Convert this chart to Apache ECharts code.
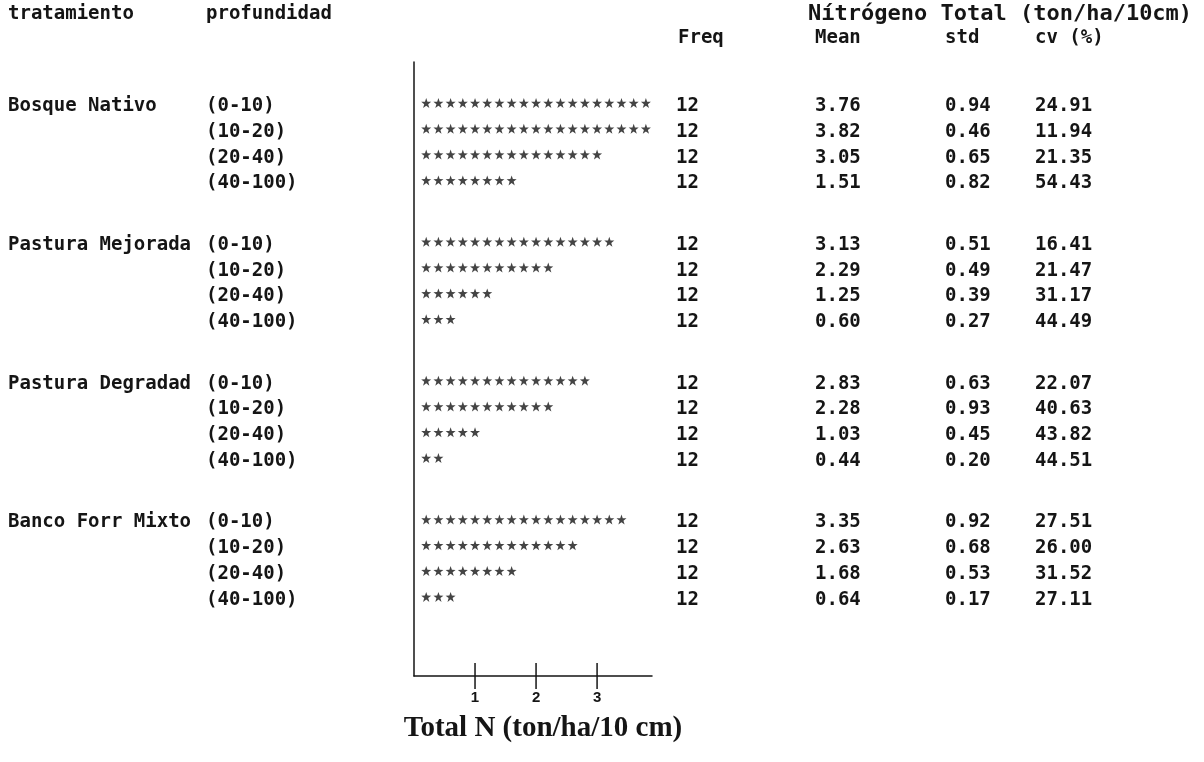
<!DOCTYPE html>
<html><head><meta charset="utf-8">
<script src="https://cdn.jsdelivr.net/npm/echarts@6/dist/echarts.min.js"></script>
<style>html,body{margin:0;padding:0;background:#fff}#c{width:1204px;height:762px}</style>
</head><body><div id="c"></div>
<script>
// ---- data ----
const treatments = ['Bosque Nativo', 'Pastura Mejorada', 'Pastura Degradad', 'Banco Forr Mixto'];
const depths = ['(0-10)', '(10-20)', '(20-40)', '(40-100)'];
const freq = [12,12,12,12, 12,12,12,12, 12,12,12,12, 12,12,12,12];
const means = [3.76,3.82,3.05,1.51, 3.13,2.29,1.25,0.60, 2.83,2.28,1.03,0.44, 3.35,2.63,1.68,0.64];
const meanText = ['3.76','3.82','3.05','1.51','3.13','2.29','1.25','0.60','2.83','2.28','1.03','0.44','3.35','2.63','1.68','0.64'];
const stdText = ['0.94','0.46','0.65','0.82','0.51','0.49','0.39','0.27','0.63','0.93','0.45','0.20','0.92','0.68','0.53','0.17'];
const cvText = ['24.91','11.94','21.35','54.43','16.41','21.47','31.17','44.49','22.07','40.63','43.82','44.51','27.51','26.00','31.52','27.11'];
const xTicks = [1, 2, 3];
const STAR_UNIT = 0.2; // each asterisk represents 0.2 ton/ha/10cm
const headerTop = ['tratamiento', 'profundidad', 'Nítrógeno Total (ton/ha/10cm)'];
const headerSub = ['Freq', 'Mean', 'std', 'cv (%)'];
const axisTitle = 'Total N (ton/ha/10 cm)';

// ---- layout ----
const GROUP_STRIDE = 5.38;
function rowPos(i) { return Math.floor(i / 4) * GROUP_STRIDE + (i % 4); }
const Y_MIN = -1.705, Y_MAX = 22.09;
const TXT_FONT = 'bold 19px "DejaVu Sans Mono"';
const NUM_FONT = 'bold 19px "DejaVu Sans Mono"';
const HEAD_FONT = 'bold 22px "DejaVu Sans Mono"';
const INK = '#151515';
const TICK_HALF = 13;
const starPath = 'path://M50,0 L62,34 L98,35 L69,57 L80,92 L50,71 L20,92 L31,57 L2,35 L38,34 Z';

const starData = [];
means.forEach((m, i) => {
  const n = Math.round(m / STAR_UNIT);
  for (let k = 1; k <= n; k++) starData.push([k * STAR_UNIT, rowPos(i)]);
});

const chart = echarts.init(document.getElementById('c'), null, {renderer: 'canvas'});
const option = {
  animation: false,
  backgroundColor: '#fff',
  grid: {left: 414, top: 62, width: 238, height: 614, containLabel: false},
  title: {
    text: axisTitle, left: 538, top: 709, textAlign: 'center',
    textStyle: {fontFamily: 'Liberation Serif', fontWeight: 'bold', fontSize: 29, color: INK}
  },
  xAxis: {
    type: 'value', min: 0, max: 3.9, interval: 1, position: 'bottom',
    axisLine: {show: true, onZero: false, lineStyle: {color: INK, width: 1.5}},
    axisTick: {show: false},
    axisLabel: {show: true, customValues: xTicks, margin: 14, color: INK, fontFamily: 'Liberation Sans', fontWeight: 'bold', fontSize: 15},
    splitLine: {show: false}
  },
  yAxis: {
    type: 'value', inverse: true, min: Y_MIN, max: Y_MAX,
    axisLine: {show: true, onZero: false, lineStyle: {color: INK, width: 1.5}},
    axisTick: {show: false}, axisLabel: {show: false}, splitLine: {show: false}
  },
  series: [{
    type: 'scatter',
    symbol: starPath, symbolSize: 10, symbolOffset: [0, -3],
    itemStyle: {color: INK},
    data: starData
  }, {
    // tick marks crossing the x axis line
    type: 'custom', clip: false, silent: true,
    data: xTicks.map(v => [v]),
    encode: {x: 0},
    renderItem: function (params, api) {
      const p = api.coord([api.value(0), Y_MAX]);
      return {type: 'line',
        shape: {x1: p[0], y1: p[1] - TICK_HALF, x2: p[0], y2: p[1] + TICK_HALF},
        style: {stroke: INK, lineWidth: 1.5}};
    }
  }]
};
chart.setOption(option);

// table text, y positions taken from the chart's own y axis
const g = [];
function txt(s, x, y, font) {
  g.push({type: 'text', x: x, y: y, silent: true,
    style: {text: s, font: font || TXT_FONT, fill: INK, textVerticalAlign: 'middle', textAlign: 'left'}});
}
txt(headerTop[0], 8, 14);
txt(headerTop[1], 206, 14);
txt(headerTop[2], 808, 14, HEAD_FONT);
txt(headerSub[0], 678, 38, NUM_FONT);
txt(headerSub[1], 815, 38, NUM_FONT);
txt(headerSub[2], 945, 38, NUM_FONT);
txt(headerSub[3], 1035, 38, NUM_FONT);
means.forEach((m, i) => {
  const y = chart.convertToPixel({yAxisIndex: 0}, rowPos(i));
  if (i % 4 === 0) txt(treatments[i / 4], 8, y);
  txt(depths[i % 4], 206, y);
  txt(String(freq[i]), 676, y, NUM_FONT);
  txt(meanText[i], 815, y, NUM_FONT);
  txt(stdText[i], 945, y, NUM_FONT);
  txt(cvText[i], 1035, y, NUM_FONT);
});
chart.setOption({graphic: g});
</script>
</body></html>
